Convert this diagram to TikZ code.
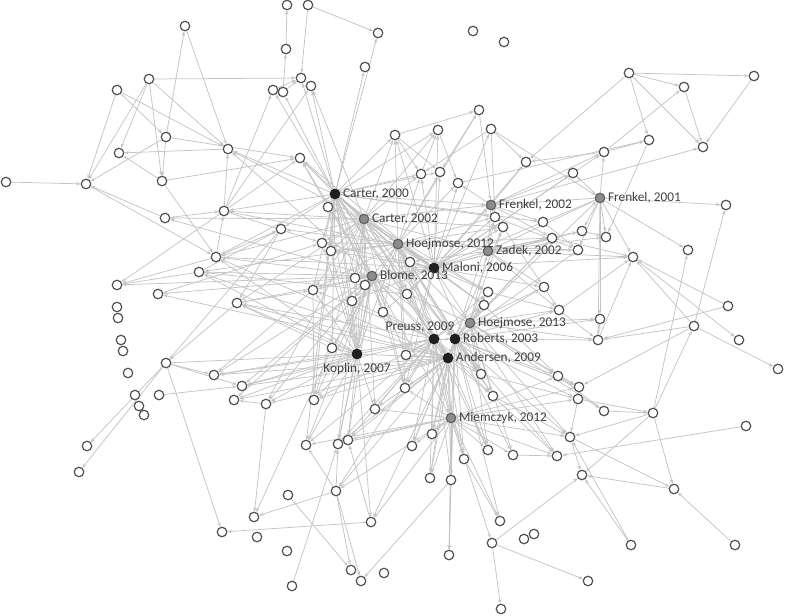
\documentclass[tikz,border=0pt]{standalone}
\usepackage{fontspec}
\setmainfont{Carlito}
\usetikzlibrary{arrows.meta}
\pgfdeclarelayer{bg}
\pgfsetlayers{bg,main}
\begin{document}
\begin{tikzpicture}[x=1pt,y=-1pt,
 nd/.style={circle,draw=black!68,line width=1.2pt,fill=white,minimum size=9.5pt,inner sep=0pt},
 ndk/.style={nd,fill=black!88,draw=black!88},
 ndg/.style={nd,fill=black!45,draw=black!62},
 lbl/.style={font=\fontsize{13.3}{15}\selectfont,text=black!75,inner sep=0pt},
 edge/.style={draw=black!23,line width=0.75pt,-{Stealth[length=4.5pt,width=3.4pt]}}]
\useasboundingbox (0,0) rectangle (785,616);
% plain nodes
\foreach \n/\x/\y in {
n1/287/5, n2/308/5, n3/185/26, n4/378/33, n5/473/31, n6/504/42, n7/286/49, n8/365/67,
n9/149/79, n10/301/78, n11/629/73, n12/754/76, n13/117/90, n14/273/90, n15/283/92, n16/311/86,
n17/684/87, n18/479/110, n19/438/130, n20/395/135, n21/491/129, n22/166/137, n23/228/149, n24/119/153,
n25/649/140, n26/703/147, n27/604/152, n28/300/158, n29/526/162, n30/573/173, n31/421/174, n32/440/172,
n33/458/183, n34/162/181, n35/86/184, n36/6/182, n37/328/207, n38/224/211, n39/726/205, n40/495/217,
n41/165/218, n42/543/222, n43/582/231, n44/503/227, n45/552/238, n46/606/237, n47/322/243, n48/331/251,
n49/578/250, n50/688/250, n51/633/257, n52/216/257, n53/410/262, n54/199/272, n55/281/229, n56/117/285,
n57/158/294, n58/355/278, n59/365/285, n60/544/287, n61/488/292, n62/407/294, n63/313/290, n64/237/303,
n65/352/301, n66/484/305, n67/559/310, n68/728/306, n69/117/307, n70/118/318, n71/383/312, n72/600/319,
n73/694/326, n74/598/340, n75/739/340, n76/121/340, n77/123/351, n78/332/348, n79/406/355, n80/166/363,
n81/778/369, n82/128/373, n83/214/375, n84/481/374, n85/558/376, n86/242/386, n87/579/387, n88/405/388,
n89/135/395, n90/159/395, n91/493/396, n92/578/399, n93/234/400, n94/314/400, n95/266/404, n96/375/409,
n97/139/406, n98/144/415, n99/604/411, n100/653/413, n101/746/426, n102/432/434, n103/412/446, n104/570/437,
n105/306/445, n106/338/444, n107/348/440, n108/488/450, n109/513/455, n110/557/456, n111/464/459, n112/87/446,
n113/79/472, n114/430/478, n115/451/480, n116/582/475, n117/288/495, n118/336/491, n119/674/489, n120/254/517,
n121/371/522, n122/500/521, n123/222/532, n124/257/537, n125/534/534, n126/524/539, n127/492/543, n128/631/545,
n129/735/545, n130/287/551, n131/449/555, n132/351/570, n133/384/573, n134/361/581, n135/588/581, n136/292/586,
n137/501/609}
  \node[nd] (\n) at (\x,\y) {};
% highlighted nodes
\node[ndk] (C0) at (335,194) {};
\node[ndk] (M) at (434,268) {};
\node[ndk] (P) at (434,339) {};
\node[ndk] (R) at (455,339) {};
\node[ndk] (A) at (448,358) {};
\node[ndk] (K) at (357,354) {};
\node[ndg] (C2) at (364,219) {};
\node[ndg] (F1) at (600,198) {};
\node[ndg] (F2) at (491,205) {};
\node[ndg] (H12) at (398,244) {};
\node[ndg] (Z) at (488,251) {};
\node[ndg] (B) at (372,276) {};
\node[ndg] (H13) at (470,323) {};
\node[ndg] (Mi) at (451,418) {};
% labels
\node[lbl,anchor=west] (lC0) at ([xshift=2.5pt]C0.east) {Carter, 2000};
\node[lbl,anchor=west] (lC2) at ([xshift=2.5pt]C2.east) {Carter, 2002};
\node[lbl,anchor=west] (lF1) at ([xshift=2.5pt]F1.east) {Frenkel, 2001};
\node[lbl,anchor=west] (lF2) at ([xshift=2.5pt]F2.east) {Frenkel, 2002};
\node[lbl,anchor=west] (lH12) at ([xshift=2.5pt]H12.east) {Hoejmose, 2012};
\node[lbl,anchor=west] (lZ) at ([xshift=2.5pt]Z.east) {Zadek, 2002};
\node[lbl,anchor=west] (lM) at ([xshift=2.5pt]M.east) {Maloni, 2006};
\node[lbl,anchor=west] (lB) at ([xshift=2.5pt]B.east) {Blome, 2013};
\node[lbl,anchor=west] (lH13) at ([xshift=2.5pt]H13.east) {Hoejmose, 2013};
\node[lbl,anchor=west] (lR) at ([xshift=2.5pt]R.east) {Roberts, 2003};
\node[lbl,anchor=west] (lA) at ([xshift=2.5pt]A.east) {Andersen, 2009};
\node[lbl,anchor=west] (lMi) at ([xshift=2.5pt]Mi.east) {Miemczyk, 2012};
\node[lbl] (lP) at (420,327) {Preuss, 2009};
\node[lbl] (lK) at (357,369) {Koplin, 2007};
% edges
\begin{pgfonlayer}{bg}
\foreach \a/\b in {
n9/n10, n9/n24, n9/n35, n9/n34, n9/n23, n13/n35, n13/n23, n22/n3, n22/n34, n22/n35, n34/n24, n36/n35,
n23/n24, n34/n28, n3/n23, n38/n14, n38/n16, n38/n28, n38/n23, n37/n28, n34/n52, n35/n52, n41/n35, n22/n28, n13/n22,
n7/n1, n2/n4, n2/n10, n15/n10, n15/n7, n14/n10, n20/n18, n20/n31, n20/n32, n31/n19, n19/n33, n18/n32, n18/F2,
n21/n31, n21/n40, n21/n29, n21/F1, n11/n29, n27/n29, F2/n33, F1/n30, n30/F2,
n11/n12, n11/n17, n11/n26, n11/n25, n17/n26, n12/n26, n27/n17, n27/n25, F1/n27, F1/n39, F2/n26, n33/n25, n25/n46, F2/n27,
F1/n46, F1/n72, F1/n50, F1/n51, F1/n49, F1/n43, F1/n74, F2/n29, F2/n44, F2/n45, F2/n40, F2/n42,
Z/n45, Z/n49, Z/n60, Z/n67, Z/n51, Z/n46, Z/n43, Z/n40, Z/n53, n68/n51, n73/n51, n51/n75, n73/n81, n73/n74,
n73/n39, n68/n74, n100/n73, n100/n50, n74/n72, n74/n51, n60/n67, n67/n51, n67/n74, n85/n87, n87/n92, n92/n104,
n85/n99, n99/n100, n100/n119, n100/n116, n100/n104, n92/n100, n101/n110, n119/n116, n128/n116, n128/n104,
n129/n119, n127/n116, n127/n135, n127/n137, n104/n116, n104/n119, n73/n87, n42/n49, n45/n51, n44/n60, n61/n67,
n66/n85, n84/n92, n91/n104, n91/n110, n109/n110, n43/n46, n40/n49, n111/n122, Mi/n127, n115/n131, n115/n134,
n80/n112, n80/n113, n80/n123, n80/n86, n80/n83, n64/n80, n55/n80, n90/n86, n57/n47, n54/n56, n52/n56, n38/n56,
n52/n38, n55/n64, n78/n64, n95/n93, n95/n120, n78/n120, n121/n123, n117/n132, n136/n106, n118/n120, n118/n105,
n118/n106, n118/n134, n118/n132, n121/n107, n63/n83, n63/n94, n54/n55, n52/n55, n41/n38, n38/n47, C2/n41,
n38/C2, n38/H12, n52/M, n54/n62, n80/K, n64/n63}
  \draw[edge] (\a) -- (\b);
\foreach \t in {n4,n8,n14,n15,n16,n10,n23,n28,n20,n19,n32,n37,n38,n47,n48,n58,n59,n63,n65,n78,n52,n55,n31,n62,n53,n71,n105,n94,n40,n42}
  \draw[edge] (C0) -- (\t);
\foreach \t in {n20,n19,n31,n47,n48,n58,n59,n28,n37,n52,n23,n16,n63,n64,n94,n106,n95,n84,n66,n61,n53,n88,n96,n44}
  \draw[edge] (C2) -- (\t);
\foreach \t in {n31,n32,n33,n18,n20,n53,n62,n71,n79,n88,n65,n78,n47,n48,n63,n55,n54,n66,n61,n44,n40,n45,n49,n84,n91}
  \draw[edge] (H12) -- (\t);
\foreach \t in {n58,n59,n65,n63,n64,n52,n54,n57,n56,n41,n37,n28,n23,n71,n62,n79,n88,n78,n86,n83,n93,n94,n95,n105,n106,n107}
  \draw[edge] (B) -- (\t);
\foreach \t in {n53,n62,n71,n79,n88,n96,n94,n106,n107,n105,n118,n102,n103,n114,n115,n86,n83,n64,n63,n65,n66,n61,n84,n91,n108,n111}
  \draw[edge] (P) -- (\t);
\foreach \t in {n61,n66,n84,n91,n108,n109,n110,n111,n85,n87,n92,n67,n60,n44,n40,n45,n49,n74,n72,n102,n103,n114,n115,n131,n122,n104}
  \draw[edge] (R) -- (\t);
\foreach \t in {n79,n88,n96,n102,n103,n114,n115,n111,n108,n84,n91,n121,n118,n107,n106,n94,n86,n83,n93,n95,n64,n57,n54,n52}
  \draw[edge] (A) -- (\t);
\foreach \t in {n78,n94,n95,n86,n93,n83,n64,n105,n106,n107,n96,n121,n63,n65,n58,n59,n47,n48,n37,n52,n54}
  \draw[edge] (K) -- (\t);
\foreach \t in {n102,n103,n114,n115,n111,n108,n109,n110,n104,n96,n88,n118,n121,n122,n131,n92,n87,n85,n106,n107,n105}
  \draw[edge] (Mi) -- (\t);
\foreach \t in {n61,n66,n84,n91,n60,n67,n72,n74,n85,n87,n99,n104,n108,n109,n110,n62,n53,n44,n45}
  \draw[edge] (H13) -- (\t);
\foreach \t in {n33,n32,n31,n53,n62,n61,n66,n40,n44,n60,n84,n88,n79,n65,n59,n58,n71,n48,n47,n37,n28,n19,n20,n21,n29,n45,n43,n30,n51,n27}
  \draw[edge] (M) -- (\t);
\foreach \a/\b in {C0/C2, C0/H12, C0/B, C0/M, C0/P, C0/R, C0/A, C0/K, C0/F2, C2/H12, C2/Z, C2/F2, C2/P, C2/R, C2/A, C2/K, C2/M,
  H12/P, H12/R, H12/A, H12/K, H12/Mi, B/P, B/R, B/A, B/K, B/Mi, M/H13, M/Z, M/F2, M/B, M/H12, M/C2, H13/Z,
  P/R, P/A, R/A, K/P, K/A, Mi/A, Mi/R, Mi/P, F2/Z, F1/F2, F1/Z, F1/M, H13/F1}
  \draw[edge] (\a) -- (\b);
\end{pgfonlayer}
\end{tikzpicture}
\end{document}
